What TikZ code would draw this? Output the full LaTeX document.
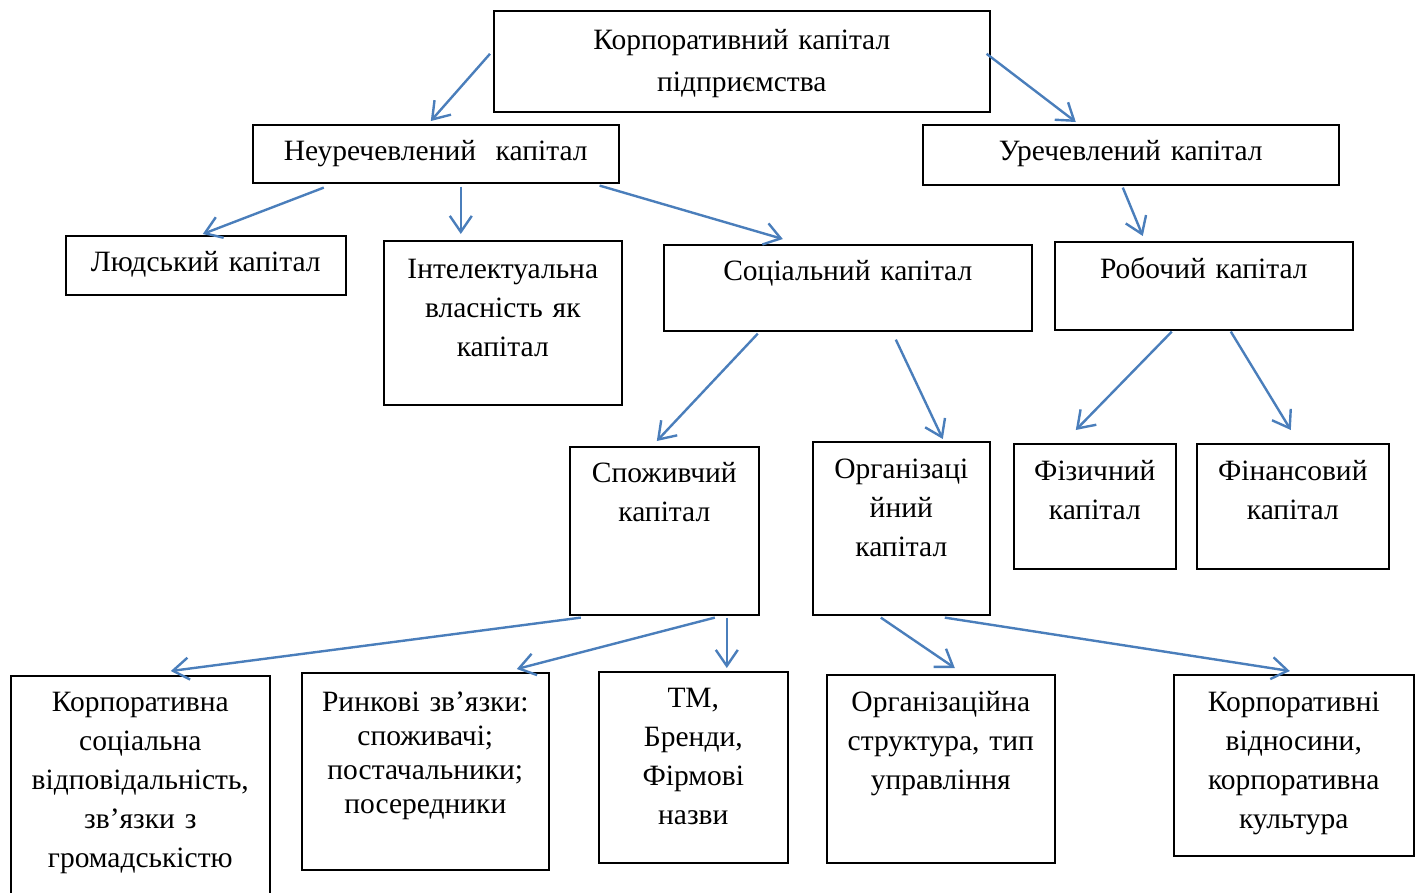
\documentclass[tikz,border=0pt]{standalone}
\usepackage{fontspec}
\setmainfont{Liberation Serif}
\usetikzlibrary{arrows.meta}
\definecolor{arrowblue}{HTML}{4A7EBB}
\begin{document}
\begin{tikzpicture}[x=1pt,y=-1pt]
            \tikzstyle{block}=[draw=black, line width=1.6pt, inner sep=0pt, anchor=north west, align=center, font=\fontsize{29.5}{39}\selectfont]
            \tikzstyle{connect}=[draw=arrowblue, line width=2.4pt, -{Straight Barb[length=16pt,width=22pt]}]
            \useasboundingbox (0,0) rectangle (1421,892);
            {\node[block, text width=496pt, text height=39pt, text depth=62pt, font=\fontsize{29.5}{42}\selectfont] (korp) at (493,10) {Корпоративний капітал\\підприємства};
            \node[block, text width=366pt, text height=36pt, text depth=22pt] (neur) at (252,124) {Неуречевлений\ \ капітал};
            \node[block, text width=416pt, text height=36pt, text depth=24pt] (urech) at (922,124) {Уречевлений капітал};
            \node[block, text width=280pt, text height=36pt, text depth=23pt] (lyud) at (65,235) {Людський капітал};
            \node[block, text width=238pt, text height=38pt, text depth=126pt] (intel) at (383,240) {Інтелектуальна\\власність як\\капітал};
            \node[block, text width=368pt, text height=36pt, text depth=50pt] (sots) at (663,244) {Соціальний капітал};
            \node[block, text width=298pt, text height=37pt, text depth=51pt] (roboch) at (1054,241) {Робочий капітал};
            \node[block, text width=189pt, text height=36pt, text depth=132pt] (spozh) at (569,446) {Споживчий\\капітал};
            \node[block, text width=177pt, text height=37pt, text depth=136pt] (orgk) at (812,441) {Організаці\\йний\\капітал};
            \node[block, text width=162pt, text height=37pt, text depth=88pt] (fiz) at (1013,443) {Фізичний\\капітал};
            \node[block, text width=192pt, text height=37pt, text depth=88pt] (fin) at (1196,443) {Фінансовий\\капітал};
            \node[block, text width=259pt, text height=36pt, text depth=195pt] (ksv) at (10,675) {Корпоративна\\соціальна\\відповідальність,\\зв’язки з\\громадськістю};
            \node[block, text width=247pt, text height=39pt, text depth=158pt, font=\fontsize{29.5}{34}\selectfont] (rynk) at (301,672) {Ринкові зв’язки:\\споживачі;\\постачальники;\\посередники};
            \node[block, text width=189pt, text height=36pt, text depth=155pt] (tm) at (598,671) {ТМ,\\Бренди,\\Фірмові\\назви};
            \node[block, text width=228pt, text height=37pt, text depth=151pt] (orgstr) at (826,674) {Організаційна\\структура, тип\\управління};
            \node[block, text width=240pt, text height=37pt, text depth=144pt] (korpvid) at (1173,674) {Корпоративні\\відносини,\\корпоративна\\культура};}
            \path ([shift={(-3,-7.5)}]korp.west) edge [connect] ([shift={(-5,-3)}]neur.north);
            \path ([shift={(-4,-7.5)}]korp.east) edge [connect] ([shift={(-55,-2)}]urech.north);
            \path ([shift={(-112,4)}]neur.south) edge [connect] ([shift={(-3,-1)}]lyud.north);
            \path ([shift={(25,3)}]neur.south) edge [connect] ([shift={(-42,-6)}]intel.north);
            \path ([shift={(-20,2)}]neur.south east) edge [connect] ([shift={(-65,-5)}]sots.north);
            \path ([shift={(-8,2)}]urech.south) edge [connect] ([shift={(-61,-5)}]roboch.north);
            \path ([shift={(-90,2)}]sots.south) edge [connect] ([shift={(-7.5,-5)}]spozh.north);
            \path ([shift={(48,8)}]sots.south) edge [connect] ([shift={(41.5,-2)}]orgk.north);
            \path ([shift={(-32,1)}]roboch.south) edge [connect] ([shift={(-19,-13)}]fiz.north);
            \path ([shift={(27,1)}]roboch.south) edge [connect] ([shift={(-2,-13)}]fin.north);
            \path ([shift={(-83.5,2)}]spozh.south) edge [connect] ([shift={(30.5,-4)}]ksv.north);
            \path ([shift={(50.5,2)}]spozh.south) edge [connect] ([shift={(91.5,-3)}]rynk.north);
            \path ([shift={(62.5,2)}]spozh.south) edge [connect] ([shift={(33.5,-3)}]tm.north);
            \path ([shift={(-20.5,2)}]orgk.south) edge [connect] ([shift={(14,-6)}]orgstr.north);
            \path ([shift={(43.5,2)}]orgk.south) edge [connect] ([shift={(-4,-3)}]korpvid.north);
        \end{tikzpicture}
\end{document}
